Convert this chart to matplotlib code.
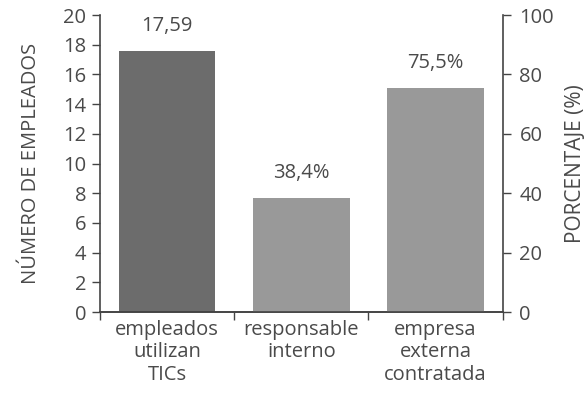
import matplotlib
matplotlib.use('Agg')
import matplotlib.pyplot as plt

plt.rcParams['font.family'] = ['Open Sans', 'DejaVu Sans']

categories = ['empleados\nutilizan\nTICs', 'responsable\ninterno', 'empresa\nexterna\ncontratada']
empleados = 17.59          # left axis, number of employees
porcentajes = [38.4, 75.5]  # right axis, percentage

text_color = '#4a4a4a'
spine_color = '#444444'
fs = 14.5

fig = plt.figure(figsize=(5.88, 3.96), dpi=100)
ax = fig.add_axes([0.170, 0.212, 0.685, 0.750])
ax2 = ax.twinx()

x = list(range(len(categories)))
width = 0.72

ax.bar(x[0], empleados, width=width, color='#6c6c6c', zorder=2)
ax.text(x[0], empleados + 1.0, f'{empleados:.2f}'.replace('.', ','),
        ha='center', va='bottom', fontsize=fs, color=text_color)

ax2.bar(x[1:], porcentajes, width=width, color='#999999', zorder=2)
for xi, p in zip(x[1:], porcentajes):
    ax2.text(xi, p + 5.0, f'{p:.1f}%'.replace('.', ','),
             ha='center', va='bottom', fontsize=fs, color=text_color)

ax.set_xlim(-0.5, 2.5)
ax.set_ylim(0, 20)
ax2.set_ylim(0, 100)
ax.set_yticks(range(0, 21, 2))
ax2.set_yticks(range(0, 101, 20))

# category labels centred, tick marks at the boundaries
ax.set_xticks([-0.5, 0.5, 1.5, 2.5])
ax.set_xticklabels([])
ax.set_xticks(x, minor=True)
ax.set_xticklabels(categories, minor=True, fontsize=fs, color=text_color, linespacing=1.14)
ax.tick_params(axis='x', which='minor', length=0, pad=6)
ax.tick_params(axis='x', which='major', length=6, width=1, color=spine_color)

ax.tick_params(axis='y', length=6, width=1, color=spine_color, labelsize=fs,
               labelcolor=text_color, pad=4)
ax2.tick_params(axis='y', length=6, width=1, color=spine_color, labelsize=fs,
                labelcolor=text_color, pad=6)

for a in (ax, ax2):
    a.spines['top'].set_visible(False)
    for s in ('left', 'right', 'bottom'):
        a.spines[s].set_color(spine_color)
        a.spines[s].set_linewidth(1.2)
ax.spines['right'].set_visible(False)
ax2.spines['left'].set_visible(False)

ax.set_ylabel('NÚMERO DE EMPLEADOS', fontsize=14.5, color=text_color, labelpad=16)
ax2.set_ylabel('PORCENTAJE (%)', fontsize=15, color=text_color, labelpad=8)

fig.savefig('out.png', dpi=100)
